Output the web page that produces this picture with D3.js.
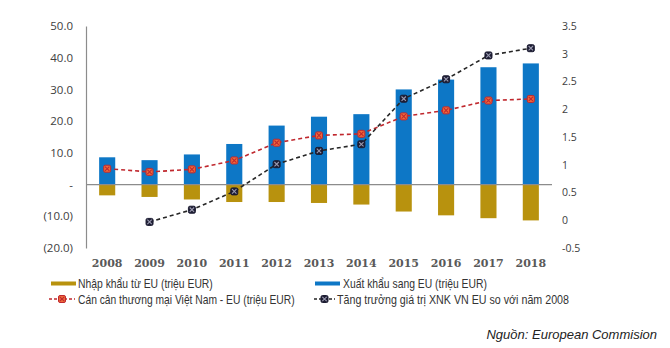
<!DOCTYPE html>
<html>
<head>
<meta charset="utf-8">
<script src="https://cdn.jsdelivr.net/npm/d3@7"></script>
<style>
  html, body { margin: 0; padding: 0; background: #fff; }
  svg { display: block; font-family: "Liberation Sans", Arial, sans-serif; }
</style>
</head>
<body>
<div id="chart"></div>
<script>
// data
var years = ['2008', '2009', '2010', '2011', '2012', '2013', '2014', '2015', '2016', '2017', '2018'];
var exportsEU = [8.6, 7.7, 9.5, 12.8, 18.6, 21.4, 22.2, 30.0, 33.1, 37.0, 38.2];
var importsEU = [-3.4, -3.9, -4.7, -5.5, -5.5, -5.8, -6.3, -8.5, -9.7, -10.6, -11.3];
var balance = [5.0, 4.0, 4.8, 7.6, 13.2, 15.5, 16.0, 21.5, 23.4, 26.5, 27.0];
var growthYears = ['2009', '2010', '2011', '2012', '2013', '2014', '2015', '2016', '2017', '2018'];
var growth = [-0.03, 0.19, 0.52, 1.01, 1.25, 1.37, 2.19, 2.54, 2.97, 3.10];
var leftTicks = [-20, -10, 0, 10, 20, 30, 40, 50];
var rightTicks = [-0.5, 0, 0.5, 1, 1.5, 2, 2.5, 3, 3.5];
var legendLabels = [
  'Nhập khẩu từ EU (triệu EUR)',
  'Xuất khẩu sang EU (triệu EUR)',
  'Cán cân thương mại Việt Nam - EU (triệu EUR)',
  'Tăng trưởng giá trị XNK  VN EU so với năm 2008'
];

var width = 670, height = 348;
var plotLeft = 86, plotRight = 552, plotTop = 26, plotBottom = 248;

var svg = d3.select('#chart').append('svg')
  .attr('width', width)
  .attr('height', height);

var x = d3.scaleBand()
  .domain(years)
  .range([plotLeft, plotRight])
  .paddingInner(0.62)
  .paddingOuter(0.31);

var yLeft = d3.scaleLinear().domain([-20, 50]).range([plotBottom, plotTop]);
var yRight = d3.scaleLinear().domain([-0.5, 3.5]).range([plotBottom, plotTop]);

var fmtLeft = function(d) {
  if (d === 0) return '-';
  if (d < 0) return '(' + d3.format('.1f')(-d) + ')';
  return d3.format('.1f')(d);
};

// left axis
var leftAxis = svg.append('g')
  .attr('transform', 'translate(' + plotLeft + ',0)')
  .call(d3.axisLeft(yLeft).tickValues(leftTicks).tickFormat(fmtLeft).tickSize(0).tickPadding(13));
leftAxis.select('.domain').attr('stroke', '#8c8c8c').attr('stroke-width', 1.2);
leftAxis.selectAll('text').attr('font-size', 11.5).attr('fill', '#404040').attr('font-family', '"Open Sans", sans-serif');

// right axis, no line
var rightAxis = svg.append('g')
  .attr('transform', 'translate(' + 562 + ',0)')
  .call(d3.axisRight(yRight).tickValues(rightTicks).tickFormat(function(d) { return String(d); }).tickSize(0).tickPadding(0));
rightAxis.select('.domain').remove();
rightAxis.selectAll('text').attr('font-size', 10.5).attr('fill', '#404040').attr('font-family', '"Open Sans", sans-serif');

// bars
svg.append('g').selectAll('rect')
  .data(exportsEU).enter()
  .append('rect')
  .attr('x', function(d, i) { return x(years[i]); })
  .attr('y', function(d) { return yLeft(d); })
  .attr('width', x.bandwidth())
  .attr('height', function(d) { return yLeft(0) - yLeft(d); })
  .attr('fill', '#0d77c6');

svg.append('g').selectAll('rect')
  .data(importsEU).enter()
  .append('rect')
  .attr('x', function(d, i) { return x(years[i]); })
  .attr('y', yLeft(0))
  .attr('width', x.bandwidth())
  .attr('height', function(d) { return yLeft(d) - yLeft(0); })
  .attr('fill', '#b8920e');

// zero line
svg.append('line')
  .attr('x1', plotLeft).attr('x2', plotRight)
  .attr('y1', yLeft(0)).attr('y2', yLeft(0))
  .attr('stroke', '#8c8c8c').attr('stroke-width', 1.2);

// x labels
svg.append('g').selectAll('text')
  .data(years).enter()
  .append('text')
  .attr('x', function(d) { return x(d) + x.bandwidth() / 2; })
  .attr('y', 267)
  .attr('text-anchor', 'middle')
  .attr('font-family', '"DejaVu Serif", "Liberation Serif", serif')
  .attr('font-weight', 'bold')
  .attr('font-size', 11)
  .attr('fill', '#595959')
  .text(function(d) { return d; });

var cx = function(yr) { return x(yr) + x.bandwidth() / 2; };

function drawMarker(g, px, py, fill, stroke, cross) {
  g.append('rect')
    .attr('x', px - 3.5).attr('y', py - 3.5)
    .attr('width', 7).attr('height', 7)
    .attr('rx', 1.5)
    .attr('fill', fill).attr('stroke', stroke).attr('stroke-width', 1);
  g.append('path')
    .attr('d', 'M' + (px - 2.2) + ',' + (py - 2.2) + 'L' + (px + 2.2) + ',' + (py + 2.2) +
               'M' + (px + 2.2) + ',' + (py - 2.2) + 'L' + (px - 2.2) + ',' + (py + 2.2))
    .attr('stroke', cross).attr('stroke-width', 1.1);
}

// trade balance line
var balLine = d3.line()
  .x(function(d, i) { return cx(years[i]); })
  .y(function(d) { return yLeft(d); });
svg.append('path')
  .attr('d', balLine(balance))
  .attr('fill', 'none')
  .attr('stroke', '#c0282e')
  .attr('stroke-width', 1.6)
  .attr('stroke-dasharray', '4,3');
var balMarks = svg.append('g');
balance.forEach(function(d, i) {
  drawMarker(balMarks, cx(years[i]), yLeft(d), '#ee6b3b', '#c0282e', '#c0282e');
});

// growth line
var growLine = d3.line()
  .x(function(d, i) { return cx(growthYears[i]); })
  .y(function(d) { return yRight(d); });
svg.append('path')
  .attr('d', growLine(growth))
  .attr('fill', 'none')
  .attr('stroke', '#262626')
  .attr('stroke-width', 1.6)
  .attr('stroke-dasharray', '4,3');
var growMarks = svg.append('g');
growth.forEach(function(d, i) {
  drawMarker(growMarks, cx(growthYears[i]), yRight(d), '#1d1d33', '#1d1d33', '#9a9ab0');
});

// legend
var legend = svg.append('g');
var legSym = [[51, 283.5], [315, 283.5], [49, 299], [314, 299]];
var legSymW = [25, 25, 26, 21];
var legTextX = [78, 343, 78, 337];
var legTextW = [135, 144, 217, 232];

legend.append('rect').attr('x', legSym[0][0]).attr('y', 281.5).attr('width', legSymW[0]).attr('height', 4).attr('fill', '#b8920e');
legend.append('rect').attr('x', legSym[1][0]).attr('y', 281.5).attr('width', legSymW[1]).attr('height', 4).attr('fill', '#0d77c6');

[['#c0282e', '#ee6b3b', '#c0282e', '#c0282e'], ['#262626', '#1d1d33', '#1d1d33', '#9a9ab0']].forEach(function(c, k) {
  var lx = legSym[2 + k][0], ly = legSym[2 + k][1], lw = legSymW[2 + k];
  legend.append('line')
    .attr('x1', lx).attr('x2', lx + lw).attr('y1', ly).attr('y2', ly)
    .attr('stroke', c[0]).attr('stroke-width', 1.4).attr('stroke-dasharray', '3,2');
  drawMarker(legend, lx + lw / 2, ly, c[1], c[2], c[3]);
});

// condensed legend labels: squeeze horizontally to the reference width
legendLabels.forEach(function(t, i) {
  var g = legend.append('g');
  var txt = g.append('text')
    .attr('font-size', 12)
    .attr('fill', '#333')
    .text(t);
  var natural = txt.node().getComputedTextLength();
  g.attr('transform', 'translate(' + legTextX[i] + ',' + (legSym[i][1] + 4.5) + ') scale(' + (legTextW[i] / natural) + ',1)');
});

// source
svg.append('text')
  .attr('x', 657).attr('y', 339)
  .attr('text-anchor', 'end')
  .attr('font-style', 'italic')
  .attr('font-size', 13)
  .attr('fill', '#222')
  .text('Nguồn: European Commision');
</script>
</body>
</html>
